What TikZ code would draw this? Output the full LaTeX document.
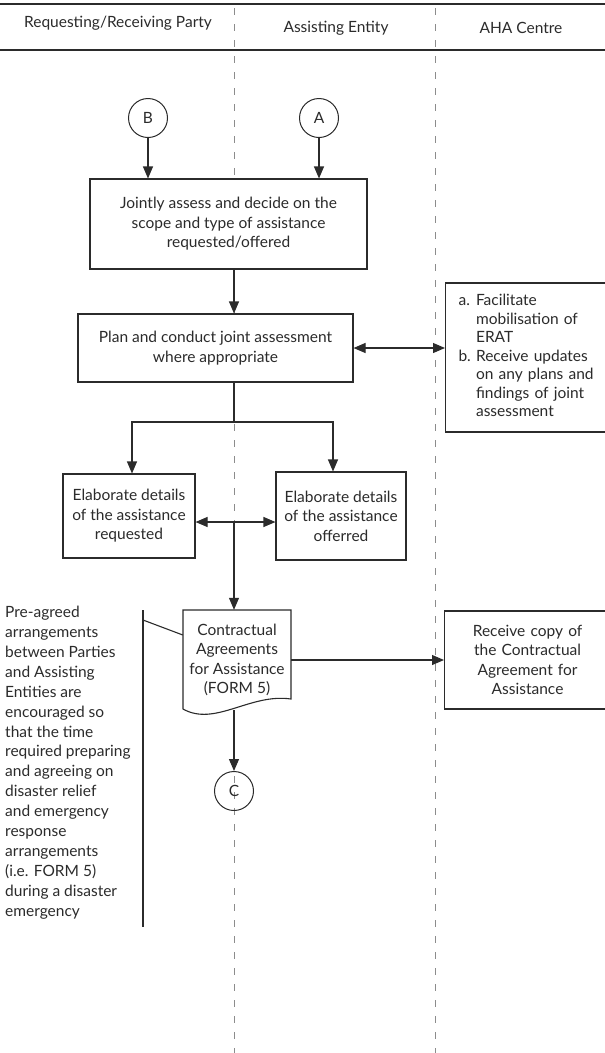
\documentclass[tikz,border=0pt]{standalone}
\usepackage{fontspec}
\setmainfont{Lato}
\usetikzlibrary{arrows.meta}
\definecolor{ink}{HTML}{2B2B2B}
\definecolor{lanegray}{HTML}{8C8C8C}
\begin{document}
\begin{tikzpicture}[x=1pt,y=-1pt,
  font=\fontsize{15.5}{19.5}\selectfont,
  every node/.style={text=ink},
  box/.style={draw=ink, line width=1.1pt, fill=white, align=center, inner sep=0pt},
  conn/.style={draw=ink, line width=1.1pt},
  arr/.style={conn, -{Triangle[length=12pt,width=10pt]}},
  darr/.style={conn, {Triangle[length=12pt,width=10pt]}-{Triangle[length=12pt,width=10pt]}},
  circ/.style={draw=ink, line width=1pt, circle, minimum size=39pt, inner sep=0pt},
  lane/.style={draw=lanegray, line width=0.9pt, dash pattern=on 7pt off 9pt},
  hdr/.style={draw=ink, line width=1.4pt}]
\useasboundingbox (0,0) rectangle (605,1053);
% header
\draw[hdr] (0,4) -- (605,4);
\draw[hdr] (0,50) -- (605,50);
\node (h1) at (118,23) {Requesting/Receiving Party};
\node (h2) at (336,28) {Assisting Entity};
\node (h3) at (521,28) {AHA Centre};
% lanes
\draw[lane] (234,8) -- (234,1053);
\draw[lane] (435,8) -- (435,1053);
% nodes
\node[circ] (B) at (148,118) {B};
\node[circ] (A) at (319,118) {A};
\node[box, minimum width=277pt, minimum height=90pt] (joint) at (228.5,224)
  {Jointly assess and decide on the\\scope and type of assistance\\requested/offered};
\node[box, minimum width=275pt, minimum height=68pt] (plan) at (215.5,348)
  {Plan and conduct joint assessment\\where appropriate};
\node[box, anchor=west, minimum height=149pt, text width=150pt, inner xsep=13pt, align=left,
  font=\fontsize{15.5}{18.5}\selectfont] (aha1) at (445,357.5)
  {\begin{tabular}{@{}l@{\ }l@{}}a. & Facilitate\\ & mobilisation of\\ & ERAT\\ b. & Receive updates\\ & on any plans and\\ & findings of joint\\ & assessment\end{tabular}};
\node[box, minimum width=132pt, minimum height=84pt] (elabL) at (129,516)
  {Elaborate details\\of the assistance\\requested};
\node[box, minimum width=130pt, minimum height=88pt] (elabR) at (341,516)
  {Elaborate details\\of the assistance\\offerred};
\draw[ink, line width=1.1pt, fill=white] (183,610) -- (291,610) -- (291,699)
  .. controls (250,693) and (215,727) .. (183,709) -- cycle;
\node[align=center, minimum width=108pt, minimum height=100pt, inner sep=0pt] (doc) at (237,660)
  {Contractual\\Agreements\\for Assistance\\(FORM 5)};
\node[box, anchor=west, minimum height=98pt, text width=150pt, inner xsep=8pt, align=center] (aha2) at (444,660)
  {Receive copy of\\the Contractual\\Agreement for\\Assistance};
\node[circ] (C) at (234,791) {C};
\node[anchor=north west, align=left, inner sep=0pt, font=\fontsize{15.5}{19.9}\selectfont] (note) at (5,606)
  {Pre-agreed\\arrangements\\between Parties\\and Assisting\\Entities are\\encouraged so\\that the time\\required preparing\\and agreeing on\\disaster relief\\and emergency\\response\\arrangements\\(i.e. FORM 5)\\during a disaster\\emergency};
% connectors
\coordinate (lx) at (234,0);
\coordinate (split) at (234,422);
\coordinate (tj) at (234,522);
\coordinate (brktop) at (143,610);
\coordinate (brkbot) at (143,927);
\coordinate (brk) at (143,620);
\draw[arr] (B) -- (B |- joint.north);
\draw[arr] (A) -- (A |- joint.north);
\draw[arr] (joint.south -| lx) -- (plan.north -| lx);
\draw[darr] (plan.east) -- (aha1.west |- plan.east);
\draw[conn] (plan.south -| lx) -- (split);
\draw[arr] (split) -| ([xshift=3pt]elabL.north);
\draw[arr] (split) -| ([xshift=-8pt]elabR.north);
\draw[darr] ([yshift=-6pt]elabL.east) -- ([yshift=-6pt]elabR.west);
\draw[arr] (tj) -- (doc.north -| tj);
\draw[arr] (doc.east) -- (aha2.west);
\draw[arr] (doc.south -| tj) -- (C);
\draw[conn] (brktop) -- (brkbot);
\draw[conn] (brk) -- ([yshift=25pt]doc.west);
\end{tikzpicture}
\end{document}
